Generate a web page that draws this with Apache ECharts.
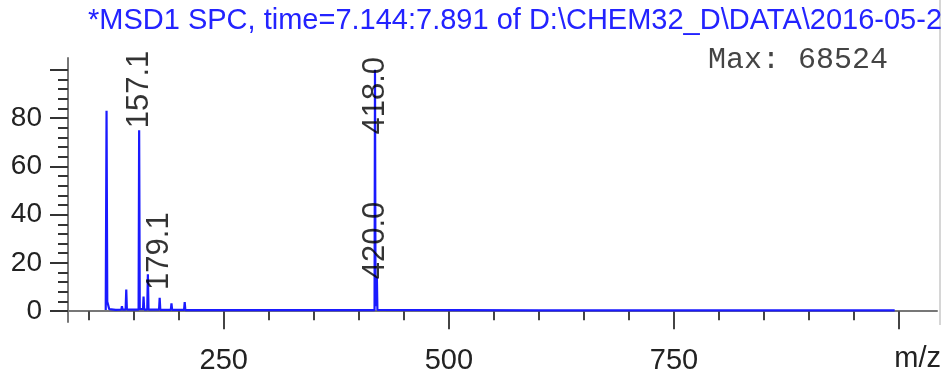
<!DOCTYPE html>
<html>
<head>
<meta charset="utf-8">
<script src="https://cdn.jsdelivr.net/npm/echarts@6/dist/echarts.min.js"></script>
<style>
    html, body { margin: 0; padding: 0; background: #fff; }
    #spectrum { width: 944px; height: 375px; }
</style>
</head>
<body>
<div id="spectrum"></div>
<script>
// spectrum trace, m/z and relative abundance (%)
const traceMz = [118.9, 119.8, 120.6, 121.8, 122.8, 130, 136.2, 136.9, 137.6, 141.0, 141.7, 142.4,
    155.4, 156.0, 156.7, 160.3, 160.9, 161.6, 165.0, 165.7, 166.4, 178.1, 178.8, 179.5,
    191.2, 191.9, 192.6, 205.9, 206.6, 207.3, 225.5, 226.2, 226.9, 277.4, 278.1, 278.8,
    417.4, 417.9, 418.5, 419.4, 420.0, 420.6, 600, 800, 995];
const traceInt = [0.5, 83, 4, 4.5, 0.8, 0.5, 0.6, 2, 0.6, 0.6, 9, 0.6,
    0.6, 75, 0.8, 0.8, 6, 0.6, 0.6, 15.3, 0.6, 0.6, 5.5, 0.5,
    0.5, 3.2, 0.5, 0.5, 3.8, 0.4, 0.4, 1.2, 0.4, 0.4, 0.9, 0.3,
    0.4, 100, 2, 2, 14, 0.5, 0.3, 0.3, 0.3];

// peak annotations: where each label sits and what it says
const peakLabelMz = [156.0, 179.0, 418.0, 418.0];
const peakLabelY = [75.8, 8.8, 73.2, 13.2];
const peakLabelText = ['157.1', '179.1', '418.0', '420.0'];

const yMajorTicks = [0, 20, 40, 60, 80, 100];
const yLabels = [0, 20, 40, 60, 80];
const yMinorTicks = [4, 8, 12, 16, 24, 28, 32, 36, 44, 48, 52, 56, 64, 68, 72, 76, 84, 88, 92, 96];
const xMajorTicks = [250, 500, 750, 1000];
const xLabels = [250, 500, 750];
const xMinorTicks = [100, 150, 200, 300, 350, 400, 450, 550, 600, 650, 700, 800, 850, 900, 950];

const maxAbundance = 68524;
const titleText = '*MSD1 SPC, time=7.144:7.891 of D:\\CHEM32_D\\DATA\\2016-05-2';

const traceData = traceMz.map((m, i) => [m, traceInt[i]]);
const labelData = peakLabelMz.map((m, i) => ({ value: [m, peakLabelY[i]], label: { formatter: peakLabelText[i] } }));

const font = 'Liberation Sans, Arial, sans-serif';

let myChart = echarts.init(document.getElementById('spectrum'));
let option = {
    animation: false,
    title: [
        {
            text: titleText,
            left: 88,
            top: 6,
            padding: 0,
            textStyle: { color: '#2323ff', fontSize: 29, fontWeight: 'normal', fontFamily: font }
        },
        {
            text: 'Max: ' + maxAbundance,
            right: 56,
            top: 45,
            padding: 0,
            textStyle: { color: '#444', fontSize: 30, fontWeight: 'normal', fontFamily: 'Liberation Mono, Courier New, monospace' }
        }
    ],
    grid: { left: 68, right: 4, top: 58, bottom: 50 },
    xAxis: [
        {
            type: 'value',
            min: 77,
            max: 1042,
            position: 'bottom',
            name: 'm/z',
            nameLocation: 'end',
            nameGap: 4,
            nameTextStyle: { color: '#222', fontSize: 29, fontFamily: font, align: 'right', verticalAlign: 'top', padding: [33, 0, 0, 0] },
            axisLine: { show: true, lineStyle: { color: '#777', width: 2 } },
            axisTick: { show: true, customValues: xMajorTicks, length: 18, lineStyle: { color: '#444', width: 2 } },
            axisLabel: { customValues: xLabels, margin: 24, fontSize: 29, color: '#222', fontFamily: font },
            splitLine: { show: false }
        },
        {
            type: 'value',
            min: 77,
            max: 1042,
            position: 'bottom',
            axisLine: { show: false },
            axisTick: { show: true, customValues: xMinorTicks, length: 9, lineStyle: { color: '#444', width: 2 } },
            axisLabel: { show: false },
            splitLine: { show: false }
        }
    ],
    yAxis: [
        {
            type: 'value',
            min: -4.5,
            max: 104.9,
            position: 'left',
            axisLine: { show: true, lineStyle: { color: '#777', width: 2 } },
            axisTick: { show: true, customValues: yMajorTicks, length: 18, lineStyle: { color: '#333', width: 2 } },
            axisLabel: { customValues: yLabels, margin: 26, fontSize: 28, color: '#222', fontFamily: font },
            splitLine: { show: false }
        },
        {
            type: 'value',
            min: -4.5,
            max: 104.9,
            position: 'left',
            axisLine: { show: false },
            axisTick: { show: true, customValues: yMinorTicks, length: 10, lineStyle: { color: '#333', width: 2 } },
            axisLabel: { show: false },
            splitLine: { show: false }
        }
    ],
    graphic: [
        {
            type: 'line',
            shape: { x1: 940, y1: 0, x2: 940, y2: 325 },
            style: { stroke: '#c8c8c8', lineWidth: 1.5 }
        }
    ],
    series: [
        {
            type: 'line',
            xAxisIndex: 0,
            yAxisIndex: 0,
            data: traceData,
            showSymbol: false,
            symbol: 'none',
            lineStyle: { color: '#1a1aff', width: 2.2 },
            z: 3
        },
        {
            type: 'scatter',
            xAxisIndex: 0,
            yAxisIndex: 0,
            data: labelData,
            symbolSize: 1,
            itemStyle: { color: 'rgba(0,0,0,0)' },
            label: {
                show: true,
                position: 'inside',
                rotate: 90,
                align: 'left',
                verticalAlign: 'middle',
                color: '#000',
                fontSize: 31,
                fontFamily: font
            },
            z: 4
        }
    ]
};
myChart.setOption(option);
</script>
</body>
</html>
